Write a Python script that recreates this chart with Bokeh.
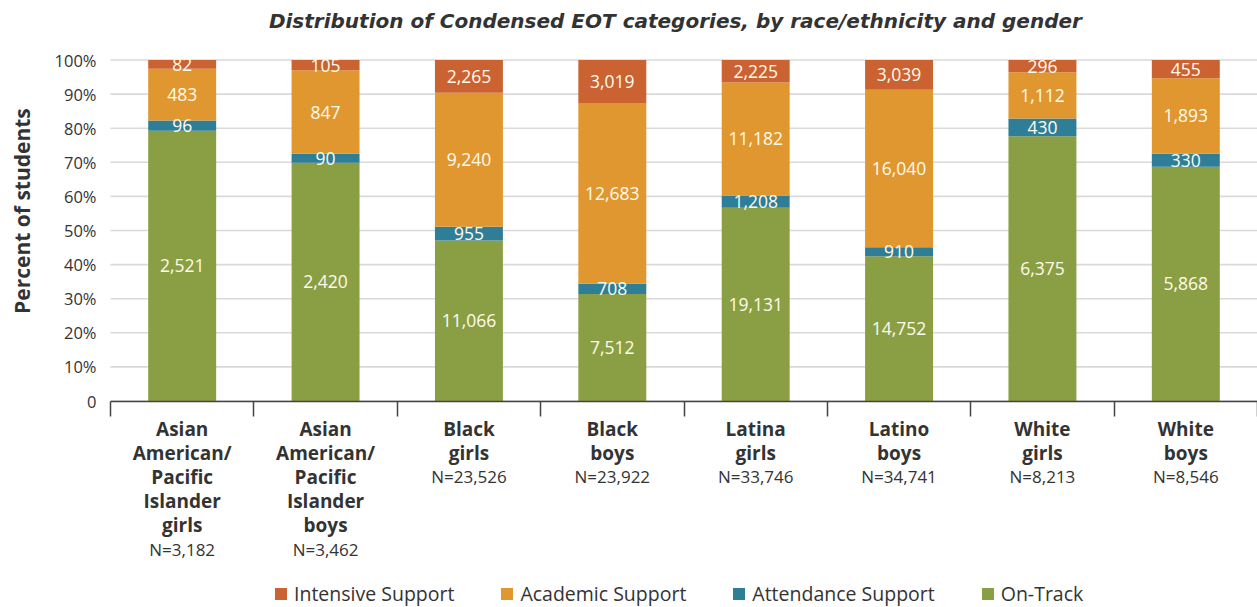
import math
from bokeh.plotting import figure
from bokeh.models import ColumnDataSource, Range1d, FixedTicker, LinearAxis, Legend, LegendItem
from bokeh.core.properties import value
from bokeh.embed import file_html
from bokeh.resources import INLINE

# ---------------- data ----------------
groups = [
    "Asian\nAmerican/\nPacific\nIslander\ngirls",
    "Asian\nAmerican/\nPacific\nIslander\nboys",
    "Black\ngirls",
    "Black\nboys",
    "Latina\ngirls",
    "Latino\nboys",
    "White\ngirls",
    "White\nboys",
]
on_track = [2521, 2420, 11066, 7512, 19131, 14752, 6375, 5868]
attendance = [96, 90, 955, 708, 1208, 910, 430, 330]
academic = [483, 847, 9240, 12683, 11182, 16040, 1112, 1893]
intensive = [82, 105, 2265, 3019, 2225, 3039, 296, 455]
series_names = ["On-Track", "Attendance Support", "Academic Support", "Intensive Support"]
y_ticks = list(range(0, 101, 10))
title_text = "Distribution of Condensed EOT categories, by race/ethnicity and gender"
y_label = "Percent of students"

# ---------------- styling ----------------
colors = ["#8a9f44", "#2e7e97", "#e1972f", "#cb6232"]
FONT = "Open Sans"
TXT = "#333333"
W, H = 1257, 607
LEFT = 110
TOP_PX = 59.5      # screen y of 100 %
ZERO_PX = 400.5    # screen y of 0 %
PX_PER = (ZERO_PX - TOP_PX) / 100.0
y_end = 100 + TOP_PX / PX_PER
y_start = -(H - ZERO_PX) / PX_PER
n = len(groups)
CAT_PX = (W - LEFT) / n
x_start = -LEFT / CAT_PX

series = [on_track, attendance, academic, intensive]
totals = [sum(s[i] for s in series) for i in range(n)]
xs = [i + 0.5 for i in range(n)]

data = {"x": xs}
for name, s in zip(series_names, series):
    data[name] = [v / t * 100 for v, t in zip(s, totals)]
src = ColumnDataSource(data)

p = figure(width=W, height=H, output_backend="svg", toolbar_location=None,
           x_range=Range1d(x_start, n), y_range=Range1d(y_start, y_end),
           x_axis_location=None, y_axis_location=None, min_border=0)
p.outline_line_color = None
p.background_fill_color = "white"
p.grid.visible = False

# horizontal gridlines spanning the category area only
p.segment(x0=[0] * len(y_ticks), x1=[n] * len(y_ticks), y0=y_ticks, y1=y_ticks,
          line_color="#d9d9d9", line_width=1.6)

# y axis fixed at x = 0
ya = LinearAxis(fixed_location=0, ticker=FixedTicker(ticks=y_ticks), bounds=(0, 100))
ya.major_label_overrides = {t: ("0" if t == 0 else f"{t}%") for t in y_ticks}
ya.axis_line_color = None
ya.major_tick_line_color = None
ya.minor_tick_line_color = None
ya.major_label_text_font = FONT
ya.major_label_text_font_size = "16.5px"
ya.major_label_text_color = TXT
ya.major_label_standoff = 8
p.add_layout(ya, "left")

# y axis title
p.text(x=[-(LEFT - 21) / CAT_PX], y=[55.7], text=[y_label], angle=math.pi / 2,
       text_align="center", text_baseline="middle", text_font=value(FONT),
       text_font_style="bold", text_font_size="21px", text_color=TXT)

# x axis at 0 with ticks at category boundaries
xa = LinearAxis(fixed_location=0, ticker=FixedTicker(ticks=list(range(n + 1))),
                bounds=(0, n))
xa.axis_line_color = "#444444"
xa.axis_line_width = 1.5
xa.major_tick_line_color = "#444444"
xa.major_tick_line_width = 1.5
xa.major_tick_in = 0
xa.major_tick_out = 15
xa.minor_tick_line_color = None
xa.major_label_text_alpha = 0
xa.major_label_text_font_size = "1px"
p.add_layout(xa, "below")

# bars
rs = p.vbar_stack(series_names, x="x", width=0.474, color=colors, line_color=None, source=src)

# value labels inside segments
lx, ly, lt = [], [], []
for i in range(n):
    cum = 0.0
    for name, s in zip(series_names, series):
        frac = data[name][i]
        lx.append(xs[i])
        ly.append(cum + frac / 2)
        lt.append(f"{s[i]:,}")
        cum += frac
p.text(x=lx, y=ly, text=lt, text_align="center", text_baseline="middle",
       text_font=value(FONT), text_font_size="17.5px", text_color="#fffbec")

# category labels, one line at a time
LINE_PX = 24.2
name_top = -(428 - ZERO_PX) / PX_PER
cx, cy, ct = [], [], []
nx, ny, nt = [], [], []
for i, g in enumerate(groups):
    lines = g.split("\n")
    for j, ln in enumerate(lines):
        cx.append(xs[i]); cy.append(name_top - j * LINE_PX / PX_PER); ct.append(ln)
    nx.append(xs[i]); ny.append(name_top - len(lines) * LINE_PX / PX_PER); nt.append(f"N={totals[i]:,}")
p.text(x=cx, y=cy, text=ct, text_align="center", text_baseline="middle",
       text_font=value(FONT), text_font_style="bold", text_font_size="19px", text_color=TXT)
p.text(x=nx, y=ny, text=nt, text_align="center", text_baseline="middle",
       text_font=value(FONT), text_font_size="17px", text_color=TXT)

# title
p.text(x=[n / 2 - 0.06], y=[100 + (TOP_PX - 20) / PX_PER], text=[title_text],
       text_align="center", text_baseline="middle", text_font=value("DejaVu Sans"),
       text_font_style="bold italic", text_font_size="20px", text_color=TXT)

# legend
order = [3, 2, 1, 0]
legend = Legend(items=[LegendItem(label=series_names[k], renderers=[rs[k]]) for k in order],
                orientation="horizontal", location=(273, 0), spacing=45,
                glyph_width=15, glyph_height=15, label_standoff=6, padding=0, margin=0,
                border_line_color=None, background_fill_alpha=0,
                label_text_font=FONT, label_text_font_size="19.5px", label_text_color=TXT)
p.add_layout(legend)

open("out.html", "w").write(file_html(p, INLINE))
